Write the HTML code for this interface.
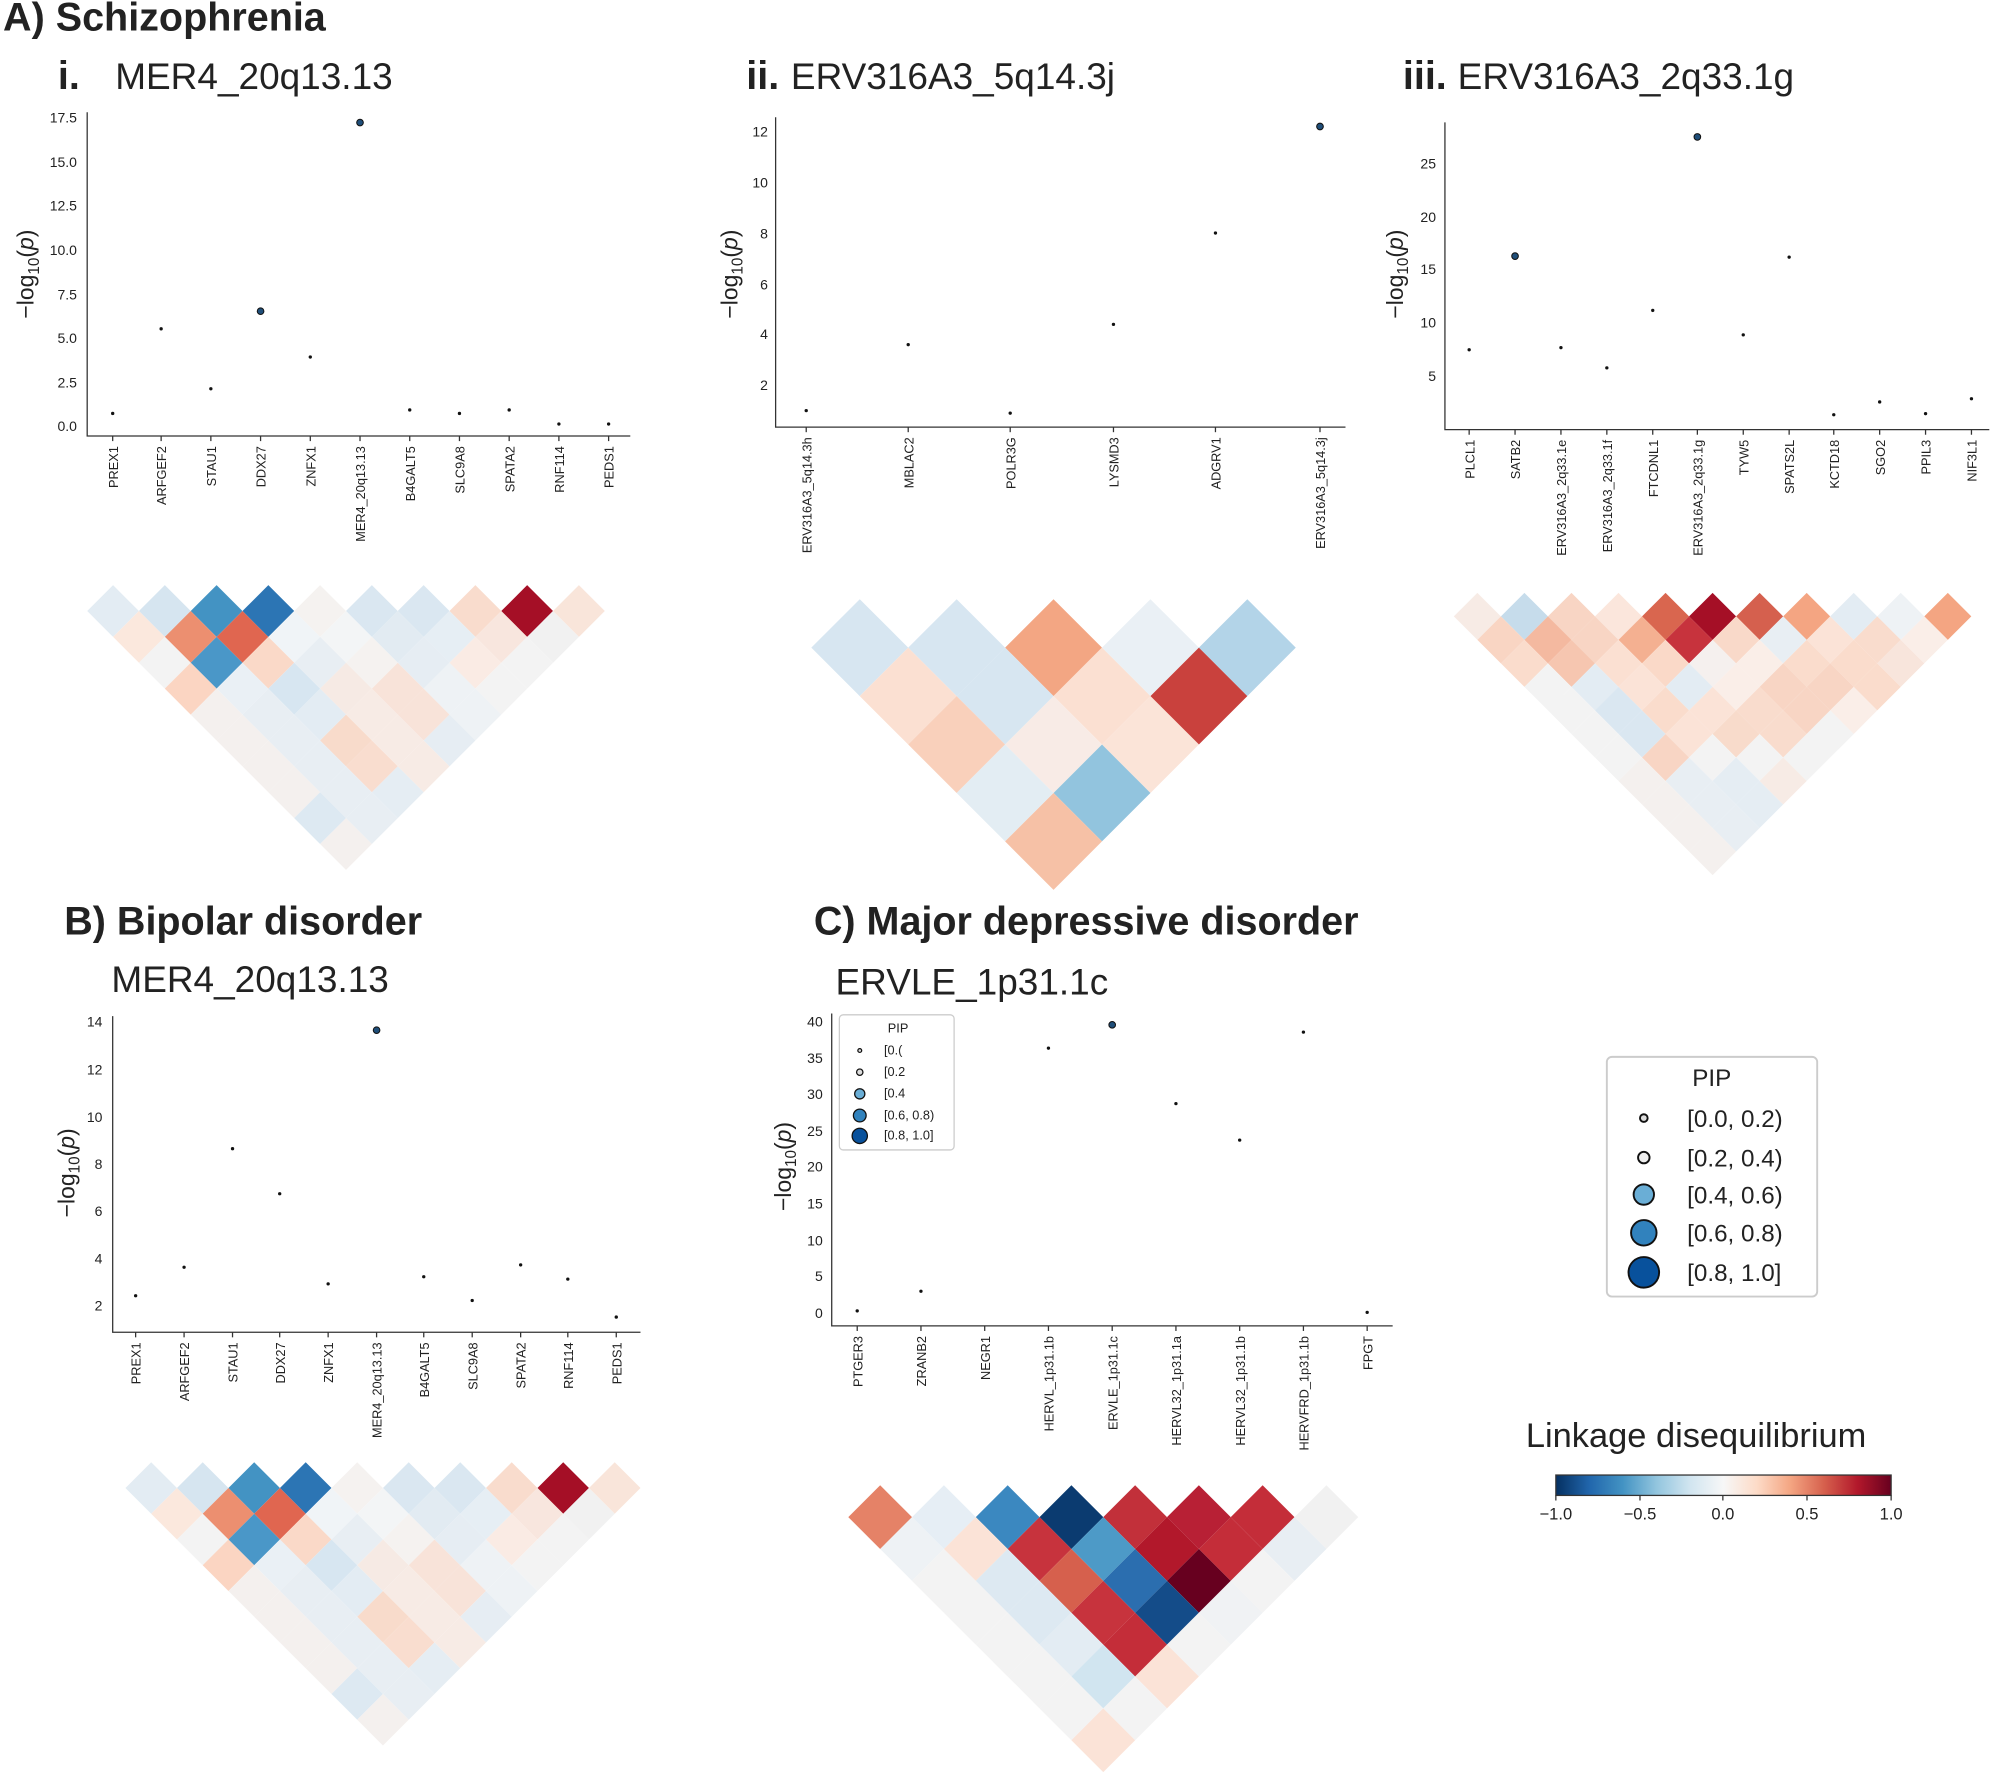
<!DOCTYPE html>
<html><head><meta charset="utf-8"><style>
html,body{margin:0;padding:0;background:#fff}
svg{display:block}
text{font-family:"Liberation Sans","DejaVu Sans",sans-serif;fill:#222}
.t{font-size:11px}.g{font-size:10px}.h{font-size:29px}.b{font-size:31px;font-weight:bold}
.yl{font-size:18px}
</style></head><body>
<svg id="s" width="2000" height="1781" viewBox="0 0 1568 1397" xmlns="http://www.w3.org/2000/svg">
<g id="ld"></g><g id="pts"></g>
<g stroke="#333" stroke-width="1" fill="none">
<path d="M68,88V342H494"/><path d="M608,92V335H1055"/><path d="M1133,96V337H1560"/>
<path d="M88,797V1045H502"/><path d="M652,795V1040H1092"/>
</g>
<text x="2" y="24" class="b">A) Schizophrenia</text>
<text x="45" y="70" class="b">i.</text><text x="90" y="70" class="h">MER4_20q13.13</text>
<text x="585" y="70" class="b">ii.</text><text x="620" y="70" class="h">ERV316A3_5q14.3j</text>
<text x="1100" y="70" class="b">iii.</text><text x="1143" y="70" class="h">ERV316A3_2q33.1g</text>
<text x="50" y="733" class="b">B) Bipolar disorder</text><text x="87" y="778" class="h">MER4_20q13.13</text>
<text x="638" y="733" class="b">C) Major depressive disorder</text><text x="655" y="780" class="h">ERVLE_1p31.1c</text>
<text class="yl" transform="translate(26,215) rotate(-90)" text-anchor="middle">−log<tspan font-size="12" dy="4">10</tspan><tspan dy="-4">(</tspan><tspan font-style="italic">p</tspan>)</text>
<text class="yl" transform="translate(578,215) rotate(-90)" text-anchor="middle">−log<tspan font-size="12" dy="4">10</tspan><tspan dy="-4">(</tspan><tspan font-style="italic">p</tspan>)</text>
<text class="yl" transform="translate(1100,215) rotate(-90)" text-anchor="middle">−log<tspan font-size="12" dy="4">10</tspan><tspan dy="-4">(</tspan><tspan font-style="italic">p</tspan>)</text>
<text class="yl" transform="translate(58,920) rotate(-90)" text-anchor="middle">−log<tspan font-size="12" dy="4">10</tspan><tspan dy="-4">(</tspan><tspan font-style="italic">p</tspan>)</text>
<text class="yl" transform="translate(620,915) rotate(-90)" text-anchor="middle">−log<tspan font-size="12" dy="4">10</tspan><tspan dy="-4">(</tspan><tspan font-style="italic">p</tspan>)</text>
<g class="t" text-anchor="end">
<text x="60" y="338">0.0</text><text x="60" y="304">2.5</text><text x="60" y="269">5.0</text><text x="60" y="235">7.5</text><text x="60" y="200">10.0</text><text x="60" y="165">12.5</text><text x="60" y="131">15.0</text><text x="60" y="96">17.5</text>
<text x="602" y="306">2</text><text x="602" y="266">4</text><text x="602" y="227">6</text><text x="602" y="187">8</text><text x="602" y="147">10</text><text x="602" y="107">12</text>
<text x="1126" y="299">5</text><text x="1126" y="257">10</text><text x="1126" y="215">15</text><text x="1126" y="174">20</text><text x="1126" y="132">25</text>
<text x="80" y="1028">2</text><text x="80" y="991">4</text><text x="80" y="954">6</text><text x="80" y="917">8</text><text x="80" y="880">10</text><text x="80" y="843">12</text><text x="80" y="805">14</text>
<text x="645" y="1034">0</text><text x="645" y="1005">5</text><text x="645" y="977">10</text><text x="645" y="948">15</text><text x="645" y="919">20</text><text x="645" y="891">25</text><text x="645" y="862">30</text><text x="645" y="834">35</text><text x="645" y="805">40</text>
</g>
<g id="ticks" stroke="#333"></g>
<g class="g" text-anchor="end">
<text transform="translate(92,350) rotate(-90)">PREX1</text><text transform="translate(130,350) rotate(-90)">ARFGEF2</text><text transform="translate(169,350) rotate(-90)">STAU1</text><text transform="translate(208,350) rotate(-90)">DDX27</text><text transform="translate(247,350) rotate(-90)">ZNFX1</text><text transform="translate(286,350) rotate(-90)">MER4_20q13.13</text><text transform="translate(325,350) rotate(-90)">B4GALT5</text><text transform="translate(364,350) rotate(-90)">SLC9A8</text><text transform="translate(403,350) rotate(-90)">SPATA2</text><text transform="translate(442,350) rotate(-90)">RNF114</text><text transform="translate(481,350) rotate(-90)">PEDS1</text>
<text transform="translate(636,343) rotate(-90)">ERV316A3_5q14.3h</text><text transform="translate(716,343) rotate(-90)">MBLAC2</text><text transform="translate(796,343) rotate(-90)">POLR3G</text><text transform="translate(877,343) rotate(-90)">LYSMD3</text><text transform="translate(957,343) rotate(-90)">ADGRV1</text><text transform="translate(1039,343) rotate(-90)">ERV316A3_5q14.3j</text>
<text transform="translate(1156,345) rotate(-90)">PLCL1</text><text transform="translate(1192,345) rotate(-90)">SATB2</text><text transform="translate(1228,345) rotate(-90)">ERV316A3_2q33.1e</text><text transform="translate(1264,345) rotate(-90)">ERV316A3_2q33.1f</text><text transform="translate(1300,345) rotate(-90)">FTCDNL1</text><text transform="translate(1335,345) rotate(-90)">ERV316A3_2q33.1g</text><text transform="translate(1371,345) rotate(-90)">TYW5</text><text transform="translate(1407,345) rotate(-90)">SPATS2L</text><text transform="translate(1442,345) rotate(-90)">KCTD18</text><text transform="translate(1478,345) rotate(-90)">SGO2</text><text transform="translate(1514,345) rotate(-90)">PPIL3</text><text transform="translate(1550,345) rotate(-90)">NIF3L1</text>
<text transform="translate(110,1053) rotate(-90)">PREX1</text><text transform="translate(148,1053) rotate(-90)">ARFGEF2</text><text transform="translate(186,1053) rotate(-90)">STAU1</text><text transform="translate(223,1053) rotate(-90)">DDX27</text><text transform="translate(261,1053) rotate(-90)">ZNFX1</text><text transform="translate(299,1053) rotate(-90)">MER4_20q13.13</text><text transform="translate(336,1053) rotate(-90)">B4GALT5</text><text transform="translate(374,1053) rotate(-90)">SLC9A8</text><text transform="translate(412,1053) rotate(-90)">SPATA2</text><text transform="translate(449,1053) rotate(-90)">RNF114</text><text transform="translate(487,1053) rotate(-90)">PEDS1</text>
<text transform="translate(676,1048) rotate(-90)">PTGER3</text><text transform="translate(726,1048) rotate(-90)">ZRANB2</text><text transform="translate(776,1048) rotate(-90)">NEGR1</text><text transform="translate(826,1048) rotate(-90)">HERVL_1p31.1b</text><text transform="translate(876,1048) rotate(-90)">ERVLE_1p31.1c</text><text transform="translate(926,1048) rotate(-90)">HERVL32_1p31.1a</text><text transform="translate(976,1048) rotate(-90)">HERVL32_1p31.1b</text><text transform="translate(1026,1048) rotate(-90)">HERVFRD_1p31.1b</text><text transform="translate(1076,1048) rotate(-90)">FPGT</text>
</g>
<rect x="658" y="796" width="90" height="106" rx="3" fill="#fff" stroke="#ccc"/>
<g font-size="10"><text x="696" y="810">PIP</text><text x="693" y="827">[0.(</text><text x="693" y="844">[0.2</text><text x="693" y="861">[0.4</text><text x="693" y="878">[0.6, 0.8)</text><text x="693" y="894">[0.8, 1.0]</text></g>
<g stroke="#111"><circle cx="674" cy="824" r="1.5" fill="#ddd"/><circle cx="674" cy="841" r="2.5" fill="#ddd"/><circle cx="674" cy="858" r="4" fill="#6aaed6"/><circle cx="674" cy="875" r="5" fill="#3182bd"/><circle cx="674" cy="891" r="6" fill="#08519c"/></g>
<rect x="1260" y="829" width="165" height="188" rx="4" fill="#fff" stroke="#ccc" stroke-width="1.5"/>
<g font-size="19"><text x="1327" y="852">PIP</text><text x="1323" y="884">[0.0, 0.2)</text><text x="1323" y="915">[0.2, 0.4)</text><text x="1323" y="944">[0.4, 0.6)</text><text x="1323" y="974">[0.6, 0.8)</text><text x="1323" y="1005">[0.8, 1.0]</text></g>
<g stroke="#111" stroke-width="1.5"><circle cx="1289" cy="877" r="3" fill="#ddd"/><circle cx="1289" cy="908" r="4.5" fill="#eee"/><circle cx="1289" cy="937" r="8" fill="#6aaed6"/><circle cx="1289" cy="967" r="10" fill="#3182bd"/><circle cx="1289" cy="998" r="12" fill="#08519c"/></g>
<text x="1330" y="1135" font-size="27" text-anchor="middle">Linkage disequilibrium</text>
<defs><linearGradient id="rb"><stop offset="0" stop-color="#053061"/><stop offset=".1" stop-color="#2166ac"/><stop offset=".2" stop-color="#4393c3"/><stop offset=".3" stop-color="#92c5de"/><stop offset=".4" stop-color="#d1e5f0"/><stop offset=".5" stop-color="#f7f7f7"/><stop offset=".6" stop-color="#fddbc7"/><stop offset=".7" stop-color="#f4a582"/><stop offset=".8" stop-color="#d6604d"/><stop offset=".9" stop-color="#b2182b"/><stop offset="1" stop-color="#67001f"/></linearGradient></defs>
<rect x="1220" y="1157" width="263" height="16" fill="url(#rb)" stroke="#333"/>
<g stroke="#333"><path d="M1220,1173v4M1286,1173v4M1351,1173v4M1417,1173v4M1483,1173v4"/></g>
<g font-size="13" text-anchor="middle"><text x="1220" y="1192">−1.0</text><text x="1286" y="1192">−0.5</text><text x="1351" y="1192">0.0</text><text x="1417" y="1192">0.5</text><text x="1483" y="1192">1.0</text></g>
</svg>
<script>
var NS="http://www.w3.org/2000/svg";
function el(p,t,a){var e=document.createElementNS(NS,t);for(var k in a)e.setAttribute(k,a[k]);document.getElementById(p).appendChild(e);}
var L=["#f4f0ee","#eef2f5","#f7ebe5","#e8eef3","#f3f3f3","#faeee8","#e5edf3"];
function ld(x0,y0,n,h,spec){for(var r=0;r<n;r++)for(var c=0;c<n-r;c++){var col=(spec[r]&&spec[r][c])||L[(r*7+c*3)%L.length];var cx=x0+h+2*h*c+r*h,cy=y0+h+r*h;
el("ld","path",{d:"M"+cx+","+(cy-h)+"L"+(cx+h)+","+cy+"L"+cx+","+(cy+h)+"L"+(cx-h)+","+cy+"Z",fill:col});}}
var A={0:["#e3ecf3","#d6e5f0","#4393c3","#2c75b4","#f5f2f0","#dae7f1","#dae7f1","#f9dccd","#a50f26","#f9e5da"],1:["#fbe8dd","#ec8f70","#e06650","#f0f4f7","#f3f5f6","#e2ebf2","#e6eef4","#f8e6de","#f1f1f1"],2:["#f3f3f3","#4a97c8","#fad9c8","#e8eef3","#f5f2f0","#e6edf3","#faebe4","#f3f3f3"],3:["#fbd5c2","#eaf0f5","#d7e6f1","#f6eae4","#f8e3d9","#eef2f5","#f3f3f3"],4:[0,0,"#e3ecf3",0,"#f8e3d9",0],5:[0,0,"#f8dbcb",0,"#e6edf3"],6:[0,0,"#f9ddcf"],8:["#dde9f2"]};
ld(68,459,10,20.3,A);ld(98,1147,10,20.2,A);
ld(636,470,5,38,{0:["#d7e6f1","#d7e6f1","#f3a683","#eaf0f5","#b3d4e8"],1:["#fbe0d2","#d7e6f1","#fbe0d2","#c9413d"],2:["#f9d0bb","#f8ebe6","#fbe4d8"],3:["#e3edf3","#92c4de"],4:["#f6c1a6"]});
ld(1140,465,11,18.45,{0:["#f7ebe5","#c6dceb","#f8d5c4","#fbe6dc","#d9664f","#a50f26","#d5604e","#f4a582","#e3ecf3","#eef2f5","#f4a582"],1:["#f9d5c3","#f4b9a0","#f8d5c4","#f4b091","#c7333d","#f9d9c9","#e8eef3","#fbe3d7","#f9dccd","#faeee8"],2:["#fadccc","#f6c6b0","#fbe0d2","#fad9c8","#f5f0ee","#faeee8","#fadccc","#fadccc","#f8e5dc"],3:["#f3f3f3","#e3ecf3","#fbe3d7","#e3ecf3","#faeee8","#f8d5c4","#f8d5c4","#fadccc"],4:["#f3f3f3","#dae7f1","#fadccc","#fbe3d7","#f9dccd","#f8d5c4","#faeee8"],5:["#f3f3f3","#dae7f1","#fbe3d7","#f8dbcb","#f9dccd","#f3f3f3"],6:["#f3f3f3","#f8d5c4","#f3f3f3","#f3f3f3","#f3f3f3"]});
ld(665,1165,8,25,{0:["#e58267","#e6eef5","#3b88c0","#0b3b70","#c2303a","#b82035","#c42d39","#f1f1f1"],1:["#eef2f5","#fbe3d7","#c7333d","#4d9ac7","#b2182b","#c42d39","#e8eef3"],2:["#f3f3f3","#dde9f2","#d6604d","#2b6eaf","#67001f","#f3f3f3"],3:["#f3f3f3","#dde9f2","#c7333d","#144c89","#f0f2f4"],4:["#f3f3f3","#e3ecf3","#c42d39","#f3f3f3"],5:["#f3f3f3","#d1e5f0","#fbe3d7"],6:["#f3f3f3","#f3f3f3"],7:["#fbe3d7"]});
function sc(xs,vs,y0,k,big,xa,tickY){xs.forEach(function(x,i){el("ticks","path",{d:"M"+x+","+tickY+"v4"});if(vs[i]==null)return;var b=big.indexOf(i)>=0;el("pts","circle",{cx:x,cy:y0-vs[i]*k,r:b?2.6:1.3,fill:b?"#1f4e79":"#111",stroke:"#111","stroke-width":b?0.8:0});});}
sc([88,126,165,204,243,282,321,360,399,438,477],[0.7,5.5,2.1,6.5,3.9,17.2,0.9,0.7,0.9,0.1,0.1],334,13.83,[3,5],68,342);
sc([632,712,792,873,953,1035],[1.0,3.6,0.9,4.4,8.0,12.2],342,19.9,[5],608,335);
sc([1152,1188,1224,1260,1296,1331,1367,1403,1438,1474,1510,1546],[7.5,16.3,7.7,5.8,11.2,27.5,8.9,16.2,1.4,2.6,1.5,2.9],337,8.35,[1,5],1133,337);
sc([106,144,182,219,257,295,332,370,408,445,483],[2.4,3.6,8.6,6.7,2.9,13.6,3.2,2.2,3.7,3.1,1.5],1061,18.6,[5],88,1045);
sc([672,722,772,822,872,922,972,1022,1072],[0.3,3.0,null,36.3,39.5,28.7,23.7,38.5,0.1],1030,5.725,[4],652,1040);
</script>
</body></html>
